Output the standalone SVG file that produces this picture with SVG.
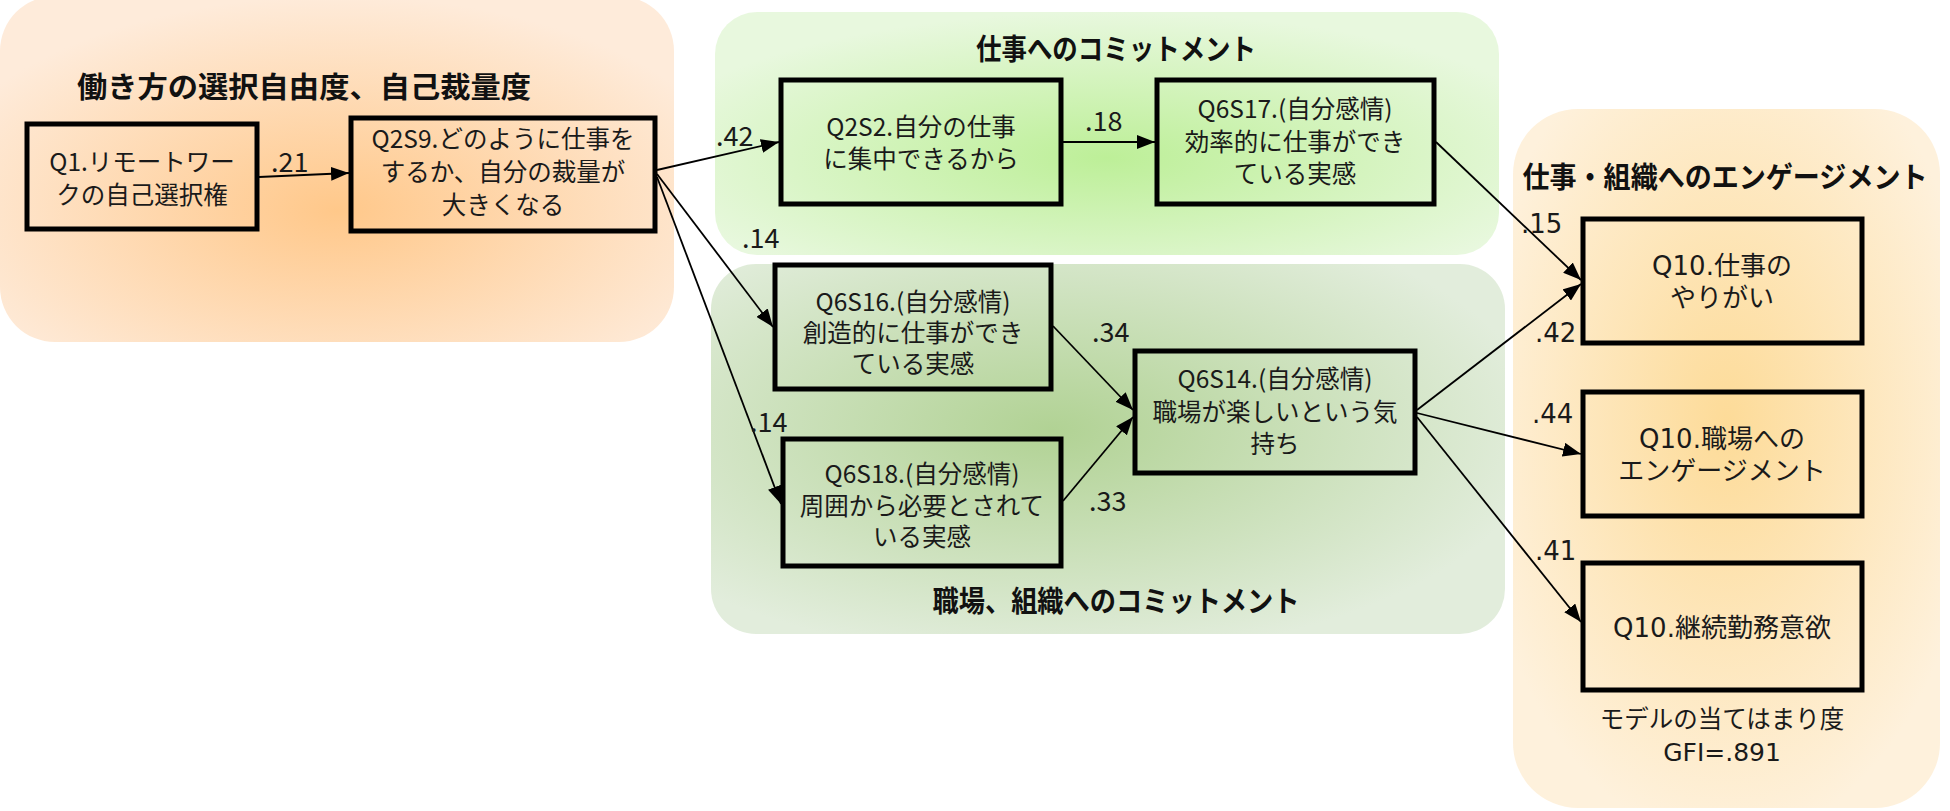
<svg xmlns="http://www.w3.org/2000/svg" width="1950" height="811" viewBox="0 0 1950 811">
<defs>
<radialGradient id="gOrange" cx="0.5" cy="0.62" r="0.62">
<stop offset="0" stop-color="#FFC88A"/>
<stop offset="1" stop-color="#FEEBDA"/>
</radialGradient>
<radialGradient id="gGreenTop" cx="0.5" cy="0.6" r="0.6">
<stop offset="0" stop-color="#BDEF98"/>
<stop offset="1" stop-color="#E8F8DE"/>
</radialGradient>
<radialGradient id="gGreenBot" cx="0.43" cy="0.45" r="0.62">
<stop offset="0" stop-color="#B1D294"/>
<stop offset="1" stop-color="#E2EDDC"/>
</radialGradient>
<radialGradient id="gRight" cx="0.5" cy="0.45" r="0.6">
<stop offset="0" stop-color="#FDDB98"/>
<stop offset="1" stop-color="#FEF1DC"/>
</radialGradient>
<marker id="arr" viewBox="0 0 18 14" refX="18" refY="7" markerWidth="18" markerHeight="14" markerUnits="userSpaceOnUse" orient="auto">
<path d="M0,0 L18,7 L0,14 Z" fill="#000"/>
</marker>
</defs>
<style>
.box{fill:none;stroke:#000;stroke-width:5;}
.t{font-family:"Noto Sans CJK JP","Noto Sans",sans-serif;font-size:24.5px;fill:#1a1a1a;text-anchor:middle;}
.tw{font-family:"DejaVu Sans","Noto Sans CJK JP",sans-serif;font-size:26px;fill:#1a1a1a;text-anchor:middle;}
.lbl{font-family:"Noto Sans CJK JP","Noto Sans",sans-serif;font-size:27px;fill:#1a1a1a;}
.lblw{font-family:"DejaVu Sans","Noto Sans CJK JP",sans-serif;font-size:26px;fill:#1a1a1a;}
.title{font-family:"Noto Sans CJK JP",sans-serif;font-weight:700;font-size:29px;fill:#111;}
.con{fill:none;stroke:#000;stroke-width:1.8;marker-end:url(#arr);}
</style>

<g id="group-workstyle">
<rect x="0" y="-4" width="674" height="346" rx="55" fill="url(#gOrange)"/>
<text class="title" x="77" y="98" textLength="454" lengthAdjust="spacingAndGlyphs">働き方の選択自由度、自己裁量度</text>
</g>
<g id="group-work-commit">
<rect x="715" y="12" width="784" height="243" rx="42" fill="url(#gGreenTop)"/>
<text class="title" x="1116" y="60" text-anchor="middle" textLength="280" lengthAdjust="spacingAndGlyphs">仕事へのコミットメント</text>
</g>
<g id="group-org-commit">
<rect x="711" y="264" width="794" height="370" rx="45" fill="url(#gGreenBot)"/>
<text class="title" x="1116" y="612" text-anchor="middle" textLength="367" lengthAdjust="spacingAndGlyphs">職場、組織へのコミットメント</text>
</g>
<g id="group-engagement">
<rect x="1513" y="109" width="427" height="699" rx="65" fill="url(#gRight)"/>
<text class="title" x="1725" y="188" text-anchor="middle" textLength="405" lengthAdjust="spacingAndGlyphs">仕事・組織へのエンゲージメント</text>
<text class="t" x="1722" y="728">モデルの当てはまり度</text>
<text class="tw" x="1722" y="761" style="font-size:25px">GFI=.891</text>
</g>

<g id="connectors">
<path class="con" d="M259,177 L349,173"/>
<path class="con" d="M657,170 L779,142"/>
<path class="con" d="M657,174 L773,327"/>
<path class="con" d="M657,177 L781,504"/>
<path class="con" d="M1063,142 L1155,142"/>
<path class="con" d="M1053,326 L1133,410"/>
<path class="con" d="M1063,501 L1133,417"/>
<path class="con" d="M1436,142 L1581,280"/>
<path class="con" d="M1417,410 L1581,284"/>
<path class="con" d="M1417,413 L1581,454"/>
<path class="con" d="M1417,417 L1581,622"/>
<text class="lbl" x="271" y="172">.21</text>
<text class="lbl" x="716" y="146">.42</text>
<text class="lbl" x="742" y="248">.14</text>
<text class="lbl" x="750" y="432">.14</text>
<text class="lbl" x="1085" y="131">.18</text>
<text class="lbl" x="1092" y="342">.34</text>
<text class="lbl" x="1089" y="511">.33</text>
<text class="lblw" x="1521" y="233">.15</text>
<text class="lblw" x="1535" y="342">.42</text>
<text class="lblw" x="1532" y="423">.44</text>
<text class="lblw" x="1535" y="560">.41</text>
</g>

<g id="node-q1">
<rect class="box" x="27" y="124" width="230" height="105"/>
<text class="t" x="142" y="171">Q1.リモートワー</text>
<text class="t" x="142" y="204">クの自己選択権</text>
</g>
<g id="node-q2s9">
<rect class="box" x="351" y="118" width="304" height="113"/>
<text class="t" x="503" y="148">Q2S9.どのように仕事を</text>
<text class="t" x="503" y="181">するか、自分の裁量が</text>
<text class="t" x="503" y="214">大きくなる</text>
</g>
<g id="node-q2s2">
<rect class="box" x="781" y="80" width="280" height="124"/>
<text class="t" x="921" y="136">Q2S2.自分の仕事</text>
<text class="t" x="921" y="168">に集中できるから</text>
</g>
<g id="node-q6s17">
<rect class="box" x="1157" y="80" width="277" height="124"/>
<text class="t" x="1295" y="118">Q6S17.(自分感情)</text>
<text class="t" x="1295" y="151">効率的に仕事ができ</text>
<text class="t" x="1295" y="183">ている実感</text>
</g>
<g id="node-q6s16">
<rect class="box" x="775" y="265" width="276" height="124"/>
<text class="t" x="913" y="311">Q6S16.(自分感情)</text>
<text class="t" x="913" y="342">創造的に仕事ができ</text>
<text class="t" x="913" y="373">ている実感</text>
</g>
<g id="node-q6s18">
<rect class="box" x="783" y="439" width="278" height="127"/>
<text class="t" x="922" y="483">Q6S18.(自分感情)</text>
<text class="t" x="922" y="515">周囲から必要とされて</text>
<text class="t" x="922" y="546">いる実感</text>
</g>
<g id="node-q6s14">
<rect class="box" x="1135" y="351" width="280" height="122"/>
<text class="t" x="1275" y="388">Q6S14.(自分感情)</text>
<text class="t" x="1275" y="421">職場が楽しいという気</text>
<text class="t" x="1275" y="453">持ち</text>
</g>
<g id="node-q10-work">
<rect class="box" x="1583" y="219" width="279" height="124"/>
<text class="tw" x="1722" y="275">Q10.仕事の</text>
<text class="tw" x="1722" y="307">やりがい</text>
</g>
<g id="node-q10-workplace">
<rect class="box" x="1583" y="392" width="279" height="124"/>
<text class="tw" x="1722" y="448">Q10.職場への</text>
<text class="tw" x="1722" y="480">エンゲージメント</text>
</g>
<g id="node-q10-continue">
<rect class="box" x="1583" y="563" width="279" height="127"/>
<text class="tw" x="1722" y="637">Q10.継続勤務意欲</text>
</g>
</svg>
